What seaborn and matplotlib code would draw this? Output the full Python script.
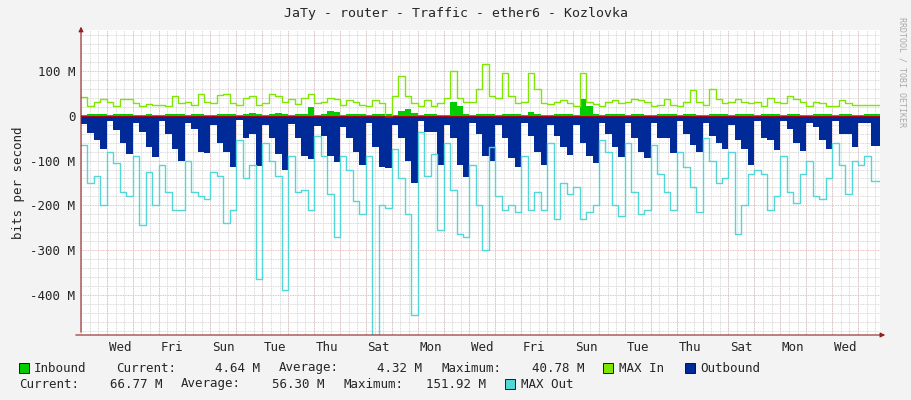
import matplotlib
matplotlib.use("Agg")
import matplotlib.pyplot as plt
import numpy as np
import pandas as pd
import seaborn as sns

sns.set_style("white")
plt.rcParams["font.family"] = ["DejaVu Sans Mono"]

# 4 samples per day (6 h bins), values in Mbit/s; day 0 = Tuesday
inbound = [
    3, 4, 5, 4,  3, 4, 5, 4,  3, 3, 4, 3,  3, 4, 5, 4,  3, 4, 4, 3,
    3, 4, 5, 4,  3, 4, 6, 4,  3, 4, 6, 4,  3, 4, 5, 20,  3, 5, 10, 9,
    3, 4, 5, 4,  3, 4, 5, 4,  3, 10, 15, 6,  3, 4, 4, 3,  3, 31, 22, 4,
    3, 4, 5, 4,  3, 4, 5, 4,  3, 8, 4, 3,  3, 4, 5, 4,  3, 38, 22, 4,
    3, 4, 5, 4,  3, 4, 4, 3,  3, 4, 5, 4,  3, 4, 4, 3,  3, 4, 5, 4,
    3, 4, 5, 4,  3, 4, 5, 4,  3, 4, 4, 3,  3, 4, 5, 4,  3, 4, 4, 3,
    3, 4, 4, 4,
]
max_in = [
    42, 22, 30, 38,  30, 22, 37, 37,  28, 22, 26, 24,  24, 22, 45, 28,
    30, 24, 48, 30,  28, 46, 50, 28,  24, 40, 44, 25,  28, 50, 45, 30,
    38, 26, 40, 50,  28, 32, 40, 38,  24, 36, 32, 25,  22, 35, 28, 0,
    45, 90, 45, 28,  22, 35, 22, 28,  40, 100, 40, 30,  30, 60, 115, 45,
    40, 95, 45, 28,  30, 95, 60, 28,  26, 30, 35, 28,  22, 95, 30, 26,
    22, 30, 35, 28,  30, 38, 35, 30,  22, 25, 38, 25,  22, 30, 58, 32,
    25, 60, 38, 28,  30, 38, 32, 28,  30, 22, 40, 30,  28, 45, 38, 32,
    22, 30, 28, 22,  22, 35, 28, 25,  25, 25, 25, 25,
]
outbound = [
    -18, -38, -55, -75,  -12, -32, -60, -85,  -15, -35, -70, -92,  -12, -40, -75, -100,
    -15, -30, -80, -82,  -20, -60, -80, -115,  -10, -50, -40, -113,  -20, -50, -85, -120,
    -18, -50, -90, -97,  -22, -45, -90, -103,  -25, -50, -80, -110,  -15, -70, -115, -117,
    -20, -50, -100, -150,  -12, -35, -35, -110,  -20, -50, -110, -137,  -15, -40, -90, -100,
    -20, -50, -95, -115,  -15, -45, -80, -110,  -20, -45, -70, -87,  -20, -60, -90, -105,
    -15, -40, -70, -93,  -15, -50, -80, -95,  -15, -50, -50, -82,  -12, -40, -65, -80,
    -15, -45, -60, -73,  -20, -55, -75, -110,  -12, -50, -55, -77,  -12, -30, -60, -78,
    -15, -25, -55, -75,  -12, -40, -40, -70,  -15, -15, -68, -68,
]
max_out = [
    -65, -150, -135, -200,  -80, -105, -170, -180,  -90, -245, -125, -200,  -110, -170, -210, -210,
    -100, -170, -180, -185,  -125, -135, -240, -210,  -55, -140, -110, -365,  -60, -100, -135, -390,
    -90, -170, -165, -210,  -45, -90, -175, -270,  -90, -120, -190, -220,  -90, -490, -200, -205,
    -75, -140, -220, -445,  -35, -135, -85, -255,  -60, -165, -265, -270,  -110, -200, -300, -70,
    -180, -210, -200, -215,  -90, -210, -170, -210,  -60, -230, -150, -175,  -160, -230, -215, -200,
    -55, -80, -200, -225,  -60, -170, -220, -210,  -65, -130, -170, -210,  -80, -115, -160, -215,
    -50, -100, -150, -140,  -80, -265, -200, -130,  -120, -130, -210, -180,  -90, -170, -195, -130,
    -100, -180, -185, -140,  -60, -110, -175, -100,  -110, -90, -145, -145,
]
day_labels = ["Wed", "Fri", "Sun", "Tue", "Thu", "Sat", "Mon", "Wed",
              "Fri", "Sun", "Tue", "Thu", "Sat", "Mon", "Wed"]

n = len(outbound)
t = np.arange(n + 1) * 0.25
t[-1] = min(t[-1], 30.85)
ext = lambda v: list(v) + [v[-1]]
df = pd.DataFrame({"t": t, "inbound": ext(inbound), "max_in": ext(max_in),
                   "outbound": ext(outbound), "max_out": ext(max_out)})

fig = plt.figure(figsize=(9.11, 4.0), dpi=100, facecolor="#f3f3f3")
ax = fig.add_axes([81 / 911, 65 / 400, 799 / 911, 305 / 400])
ax.set_facecolor("white")

ax.fill_between(df["t"], 0, df["inbound"], step="post", color="#00cc00", lw=0)
ax.fill_between(df["t"], 0, df["outbound"], step="post", color="#002a97", lw=0)
sns.lineplot(x="t", y="max_in", data=df, drawstyle="steps-post",
             color="#7ee600", lw=1, ax=ax)
sns.lineplot(x="t", y="max_out", data=df, drawstyle="steps-post",
             color="#52d6d6", lw=1, ax=ax)

ax.set_xlim(0, 30.85)
ax.set_ylim(-490, 192)
ax.set_xticks(np.arange(len(day_labels)) * 2 + 1.5)
ax.set_xticklabels(day_labels, fontsize=9)
ax.set_xticks(np.arange(0, 31, 1 / 3), minor=True)
ax.set_yticks([-400, -300, -200, -100, 0, 100])
ax.set_yticklabels(["-400 M", "-300 M", "-200 M", "-100 M", "0", "100 M"], fontsize=9)
ax.set_yticks(np.arange(-480, 192, 20), minor=True)
ax.tick_params(length=0, which="both", pad=4)
ax.grid(which="minor", color="#cccccc", ls=(0, (1, 1)), lw=0.6)
for d in range(1, 31):
    ax.axvline(d, color="#f0a0a0", ls=(0, (1, 1)), lw=0.6, zorder=0.5)
for y in [-400, -300, -200, -100, 100]:
    ax.axhline(y, color="#f0a0a0", ls=(0, (1, 1)), lw=0.6, zorder=0.5)
ax.set_axisbelow(True)
for s in ax.spines.values():
    s.set_visible(False)
ax.set_xlabel("")
ax.set_ylabel("bits per second", fontsize=9)
ax.axhline(0, color="#cc0000", lw=0.6)

# axis arrows
ax.annotate("", xy=(0, 1.02), xytext=(0, 0), xycoords="axes fraction",
            arrowprops=dict(arrowstyle="-|>", color="#902020", lw=0.8,
                            mutation_scale=7), annotation_clip=False)
ax.annotate("", xy=(1.01, 0), xytext=(-0.01, 0), xycoords="axes fraction",
            arrowprops=dict(arrowstyle="-|>", color="#902020", lw=0.8,
                            mutation_scale=7), annotation_clip=False)

fig.text(0.5, 1 - 14 / 400, "JaTy - router - Traffic - ether6 - Kozlovka",
         ha="center", va="center", fontsize=9.5)
fig.text(902 / 911, 0.82, "RRDTOOL / TOBI OETIKER", rotation=270,
         ha="center", va="center", fontsize=6, color="#aaaaaa")

def px(x, y):
    return x / 911, 1 - y / 400

def box(x, y, c):
    fig.patches.append(plt.Rectangle(px(x, y + 5), 10 / 911, 10 / 400,
                                     transform=fig.transFigure,
                                     facecolor=c, edgecolor="black", lw=0.6))

fs = 9
row1, row2 = 368, 384
box(19, row1, "#00cc00")
for x, s, ha in [(34, "Inbound", "left"), (116, "Current:", "left"),
                 (260, "4.64 M", "right"), (279, "Average:", "left"),
                 (422, "4.32 M", "right"), (441, "Maximum:", "left"),
                 (584, "40.78 M", "right"), (619, "MAX In", "left"),
                 (700, "Outbound", "left")]:
    fig.text(*px(x, row1), s, ha=ha, va="center", fontsize=fs)
box(603, row1, "#7ee600")
box(685, row1, "#002a97")
for x, s, ha in [(19, "Current:", "left"), (163, "66.77 M", "right"),
                 (181, "Average:", "left"), (324, "56.30 M", "right"),
                 (343, "Maximum:", "left"), (486, "151.92 M", "right"),
                 (521, "MAX Out", "left")]:
    fig.text(*px(x, row2), s, ha=ha, va="center", fontsize=fs)
box(505, row2, "#52d6d6")

fig.savefig("out.png", dpi=100, facecolor=fig.get_facecolor())
